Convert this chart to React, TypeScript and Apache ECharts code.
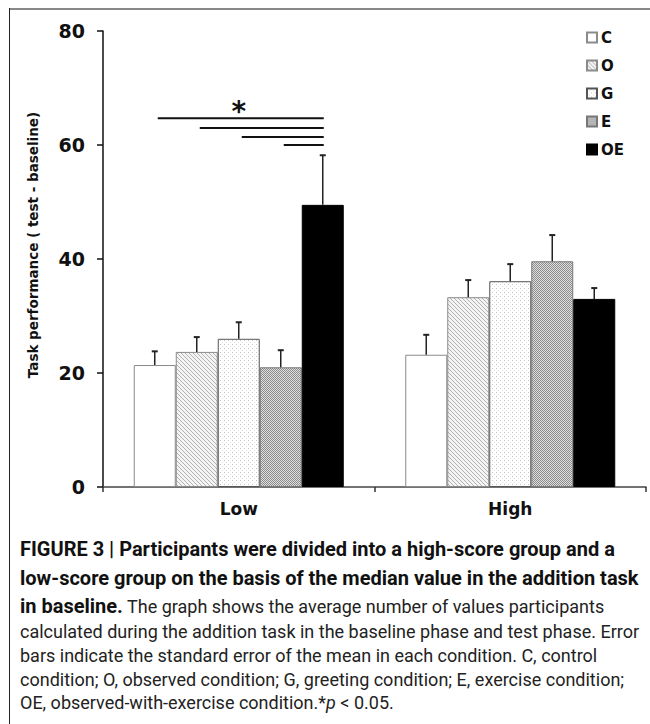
import React, { useEffect, useRef } from "react";
import * as echarts from "echarts";

const categories = ["Low", "High"];
const seriesNames = ["C", "O", "G", "E", "OE"];
const meanLow = [21.4, 23.7, 26.0, 21.0, 49.5];
const meanHigh = [23.2, 33.3, 36.1, 39.6, 33.0];
const errTopLow = [23.8, 26.3, 28.9, 24.0, 58.2];
const errTopHigh = [26.7, 36.3, 39.1, 44.2, 34.9];
const yTicks = [0, 20, 40, 60, 80];
// significance brackets: from bar index to bar index (Low group), at value
const sigFrom = [0, 1, 2, 3];
const sigTo = [4, 4, 4, 4];
const sigLevel = [64.7, 63.0, 61.4, 60.0];
const starLevel = [67.0];

const BAR_W = 42;

function makePattern(kind: string) {
  const c = document.createElement("canvas");
  const n = kind === "check" ? 2 : 4;
  c.width = n;
  c.height = n;
  const ctx = c.getContext("2d")!;
  if (kind === "plain") {
    ctx.fillStyle = "#ffffff";
    ctx.fillRect(0, 0, n, n);
  } else if (kind === "diag") {
    ctx.fillStyle = "#f4f4f4";
    ctx.fillRect(0, 0, n, n);
    ctx.fillStyle = "#b2b2b2";
    for (let i = 0; i < n; i++) ctx.fillRect(i, i, 1, 1);
  } else if (kind === "dots") {
    ctx.fillStyle = "#ffffff";
    ctx.fillRect(0, 0, n, n);
    ctx.fillStyle = "#c4c4c4";
    ctx.fillRect(0, 0, 1, 1);
    ctx.fillStyle = "#dddddd";
    ctx.fillRect(2, 2, 1, 1);
  } else if (kind === "check") {
    ctx.fillStyle = "#dedede";
    ctx.fillRect(0, 0, n, n);
    ctx.fillStyle = "#8c8c8c";
    ctx.fillRect(0, 0, 1, 1);
    ctx.fillRect(1, 1, 1, 1);
  } else {
    ctx.fillStyle = "#000000";
    ctx.fillRect(0, 0, n, n);
  }
  return { image: c.toDataURL(), repeat: "repeat", imageWidth: n, imageHeight: n } as any;
}

export default function App() {
  const ref = useRef<HTMLDivElement>(null);
  useEffect(() => {
    if (!ref.current) return;
    const chart = echarts.init(ref.current, undefined, { renderer: "svg" });
    const kinds = ["plain", "diag", "dots", "check", "solid"];
    const borders = ["#8a8a8a", "#8a8a8a", "#555555", "#777777", "#000000"];
    const fills = kinds.map((k, i) => (i === 4 ? "#000000" : makePattern(k)));

    const barSeries = seriesNames.map((name, i) => ({
      type: "bar",
      name,
      data: [meanLow[i], meanHigh[i]],
      barWidth: BAR_W,
      barGap: "0%",
      itemStyle: { color: fills[i], borderColor: borders[i], borderWidth: 1 },
      emphasis: { disabled: true },
      z: 2,
    }));

    const errData: number[][] = [];
    seriesNames.forEach((_, i) => {
      errData.push([0, meanLow[i], errTopLow[i], i]);
      errData.push([1, meanHigh[i], errTopHigh[i], i]);
    });

    const sigData = sigLevel.map((v, k) => [0, v, sigFrom[k], sigTo[k]]);

    const font = "DejaVu Sans";
    const capFont = "Roboto";

    const captionLines = [
      { y: 549, text: "{b|FIGURE 3 | Participants were divided into a high-score group and a}" },
      { y: 578, text: "{b|low-score group on the basis of the median value in the addition task}" },
      { y: 606, text: "{b|in baseline.}{n| The graph shows the average number of values participants}" },
      { y: 631, text: "{n|calculated during the addition task in the baseline phase and test phase. Error}" },
      { y: 655, text: "{n|bars indicate the standard error of the mean in each condition. C, control}" },
      { y: 679, text: "{n|condition; O, observed condition; G, greeting condition; E, exercise condition;}" },
      { y: 702, text: "{n|OE, observed-with-exercise condition.*}{i|p}{n| < 0.05.}" },
    ];
    const rich = {
      b: { fontFamily: capFont, fontWeight: "bold", fontSize: 20, fill: "#111" },
      n: { fontFamily: capFont, fontWeight: "normal", fontSize: 18, fill: "#222" },
      i: { fontFamily: capFont, fontStyle: "italic", fontSize: 18, fill: "#222" },
    };

    chart.setOption({
      animation: false,
      backgroundColor: "#ffffff",
      grid: { left: 103, top: 31, width: 543, height: 456, containLabel: false },
      legend: {
        data: seriesNames.map((n) => ({ name: n, icon: "rect" })),
        orient: "vertical",
        left: 586,
        top: 30,
        itemWidth: 10,
        itemHeight: 10,
        itemGap: 13,
        padding: 0,
        selectedMode: false,
        textStyle: { fontFamily: font, fontWeight: "bold", fontSize: 15, color: "#111", padding: [0, 0, 0, -1] },
      },
      xAxis: {
        type: "category",
        data: categories,
        axisLine: { lineStyle: { color: "#444", width: 1.5 } },
        axisTick: { show: true, alignWithLabel: false, length: 5, lineStyle: { color: "#333", width: 1.5 } },
        axisLabel: { fontFamily: font, fontWeight: "bold", fontSize: 17, color: "#111", margin: 13 },
        splitLine: { show: false },
      },
      yAxis: {
        type: "value",
        min: yTicks[0],
        max: yTicks[yTicks.length - 1],
        interval: yTicks[1] - yTicks[0],
        axisLine: { show: true, lineStyle: { color: "#111", width: 1.5 } },
        axisTick: { show: true, length: 6, lineStyle: { color: "#111", width: 1.5 } },
        axisLabel: { fontFamily: font, fontWeight: "bold", fontSize: 19, color: "#111", margin: 18 },
        splitLine: { show: false },
      },
      series: [
        ...barSeries,
        {
          type: "custom",
          name: "err",
          data: errData,
          z: 5,
          silent: true,
          renderItem: (params: any, api: any) => {
            const cat = api.value(0);
            const p0 = api.coord([cat, api.value(1)]);
            const p1 = api.coord([cat, api.value(2)]);
            const x = p0[0] + (api.value(3) - 2) * BAR_W;
            return {
              type: "group",
              children: [
                { type: "line", shape: { x1: x, y1: p0[1], x2: x, y2: p1[1] }, style: { stroke: "#222", lineWidth: 1.5 } },
                { type: "line", shape: { x1: x - 3, y1: p1[1], x2: x + 3, y2: p1[1] }, style: { stroke: "#222", lineWidth: 2 } },
              ],
            };
          },
        },
        {
          type: "custom",
          name: "sig",
          data: sigData,
          z: 5,
          silent: true,
          renderItem: (params: any, api: any) => {
            const p = api.coord([api.value(0), api.value(1)]);
            const x1 = p[0] + (api.value(2) - 2) * BAR_W + 3;
            const x2 = p[0] + (api.value(3) - 2) * BAR_W + 1;
            return { type: "line", shape: { x1, y1: p[1], x2, y2: p[1] }, style: { stroke: "#111", lineWidth: 2 } };
          },
        },
        {
          type: "custom",
          name: "star",
          data: starLevel.map((v) => [0, v]),
          z: 5,
          silent: true,
          renderItem: (params: any, api: any) => {
            const p = api.coord([api.value(0), api.value(1)]);
            return {
              type: "text",
              x: p[0],
              y: p[1] + 6,
              style: { text: "*", fontFamily: font, fontWeight: "bold", fontSize: 28, fill: "#111", align: "center", verticalAlign: "middle" },
            };
          },
        },
      ],
      graphic: [
        { type: "line", shape: { x1: 9, y1: 9, x2: 650, y2: 9 }, style: { stroke: "#888", lineWidth: 2 } },
        { type: "line", shape: { x1: 9.5, y1: 8, x2: 9.5, y2: 724 }, style: { stroke: "#222", lineWidth: 1 } },
        {
          type: "text",
          x: 33,
          y: 245,
          rotation: Math.PI / 2,
          style: {
            text: "Task performance ( test - baseline)",
            fontFamily: font,
            fontWeight: "bold",
            fontSize: 13.5,
            fill: "#111",
            align: "center",
            verticalAlign: "middle",
          },
        },
        ...captionLines.map((l) => ({
          type: "text",
          x: 20,
          y: l.y,
          style: { text: l.text, rich, align: "left", verticalAlign: "middle" },
        })),
      ],
    });
    return () => chart.dispose();
  }, []);
  return <div ref={ref} style={{ position: "absolute", left: 0, top: 0, width: 650, height: 724 }} />;
}
